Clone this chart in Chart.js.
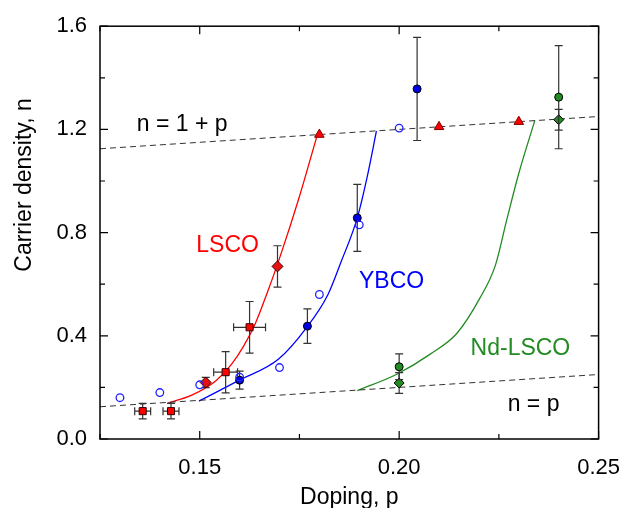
<!DOCTYPE html>
<html><head><meta charset="utf-8">
<style>html,body{margin:0;padding:0;background:#fff}#wrap{width:636px;height:508px}</style>
<script src="https://cdn.jsdelivr.net/npm/chart.js@4/dist/chart.umd.min.js"></script>
</head><body><div id="wrap"><canvas id="c" width="636" height="508"></canvas></div>
<script>
// ---- tick labels ----
const xTicks = [0.15, 0.20, 0.25];
const yTicks = [0.0, 0.4, 0.8, 1.2, 1.6];
const xMinor = [0.125, 0.15, 0.175, 0.20, 0.225, 0.25];
const yMinor = [0.0, 0.2, 0.4, 0.6, 0.8, 1.0, 1.2, 1.4, 1.6];

// ---- LSCO ----
const lscoSqP = [0.1357, 0.1428, 0.1565, 0.1625];
const lscoSqN = [0.108, 0.108, 0.259, 0.433];
const lscoSqPErr = [0.002, 0.002, 0.003, 0.004];
const lscoSqNErr = [0.03, 0.03, 0.08, 0.10];
const lscoDiaP = [0.1515, 0.1695];
const lscoDiaN = [0.219, 0.669];
const lscoDiaNErr = [0.02, 0.08];
const lscoTriP = [0.18, 0.21, 0.23];
const lscoTriN = [1.18, 1.21, 1.23];
const lscoCurveP = [0.1420, 0.1480, 0.1540, 0.1580, 0.1610, 0.1640, 0.1670, 0.1700, 0.1750, 0.1795];
const lscoCurveN = [0.139, 0.170, 0.225, 0.290, 0.360, 0.450, 0.570, 0.700, 0.940, 1.180];

// ---- YBCO ----
const ybcoOpenP = [0.13, 0.14, 0.15, 0.16, 0.17, 0.18, 0.19, 0.20];
const ybcoOpenN = [0.16, 0.18, 0.21, 0.24, 0.277, 0.56, 0.83, 1.205];
const ybcoP = [0.16, 0.177, 0.1895, 0.2045];
const ybcoN = [0.228, 0.4375, 0.857, 1.357];
const ybcoNErr = [0.035, 0.067, 0.13, 0.20];
const ybcoCurveP = [0.1498, 0.1597, 0.1697, 0.1767, 0.1821, 0.1854, 0.1895, 0.1920, 0.1943];
const ybcoCurveN = [0.147, 0.226, 0.309, 0.430, 0.558, 0.685, 0.857, 1.017, 1.193];

// ---- Nd-LSCO ----
const ndCircP = [0.20, 0.24];
const ndCircN = [0.28, 1.325];
const ndCircNErr = [0.05, 0.20];
const ndDiaP = [0.20, 0.24];
const ndDiaN = [0.217, 1.2375];
const ndDiaNErr = [0.04, 0.04];
const ndCurveP = [0.1895, 0.1994, 0.2077, 0.2145, 0.2202, 0.2241, 0.2270, 0.2300, 0.2340];
const ndCurveN = [0.1875, 0.251, 0.328, 0.410, 0.545, 0.672, 0.851, 1.030, 1.234];

// ---- reference lines ----
const upperLineP = [0.125, 0.25];
const upperLineN = [1.125, 1.25];
const lowerLineP = [0.125, 0.25];
const lowerLineN = [0.125, 0.25];

const RED = '#ff0000', BLUE = '#0000ff', GREEN = '#228b22';
const FONT = '"Liberation Sans", Arial, Helvetica, sans-serif';

function pts(xs, ys) { return xs.map((x, i) => ({ x: x, y: ys[i] })); }

function lineDs(xs, ys, color, dashed) {
  return {
    type: 'line', data: pts(xs, ys), borderColor: color, borderWidth: dashed ? 1 : 1.3,
    borderDash: dashed ? [6, 4] : [], pointRadius: 0, showLine: true, fill: false,
    cubicInterpolationMode: dashed ? 'default' : 'monotone', tension: 0, order: 10
  };
}
function markDs(xs, ys, style, r, bg, bc, bw, errX, errY) {
  return {
    type: 'scatter', data: pts(xs, ys), pointStyle: style, pointRadius: r,
    backgroundColor: bg, borderColor: bc, borderWidth: bw, showLine: false,
    errX: errX, errY: errY, order: 1
  };
}

const errorBars = {
  id: 'errorBars',
  beforeDatasetDraw(chart, args) {
    const ds = chart.data.datasets[args.index];
    if (!ds.errX && !ds.errY) return;
    const xs = chart.scales.x, ys = chart.scales.y, ctx = chart.ctx;
    ctx.save();
    ctx.strokeStyle = '#333'; ctx.lineWidth = 1.2;
    const cap = 4;
    ds.data.forEach((p, i) => {
      const cx = xs.getPixelForValue(p.x), cy = ys.getPixelForValue(p.y);
      if (ds.errY) {
        const t = ys.getPixelForValue(p.y + ds.errY[i]), b = ys.getPixelForValue(p.y - ds.errY[i]);
        ctx.beginPath();
        ctx.moveTo(cx, t); ctx.lineTo(cx, b);
        ctx.moveTo(cx - cap, t); ctx.lineTo(cx + cap, t);
        ctx.moveTo(cx - cap, b); ctx.lineTo(cx + cap, b);
        ctx.stroke();
      }
      if (ds.errX) {
        const l = xs.getPixelForValue(p.x - ds.errX[i]), r = xs.getPixelForValue(p.x + ds.errX[i]);
        ctx.beginPath();
        ctx.moveTo(l, cy); ctx.lineTo(r, cy);
        ctx.moveTo(l, cy - cap); ctx.lineTo(l, cy + cap);
        ctx.moveTo(r, cy - cap); ctx.lineTo(r, cy + cap);
        ctx.stroke();
      }
    });
    ctx.restore();
  }
};

const frameAndText = {
  id: 'frameAndText',
  afterDraw(chart) {
    const ctx = chart.ctx, a = chart.chartArea, xs = chart.scales.x, ys = chart.scales.y;
    ctx.save();
    ctx.strokeStyle = '#000'; ctx.lineWidth = 1.5;
    ctx.strokeRect(a.left, a.top, a.right - a.left, a.bottom - a.top);
    ctx.lineWidth = 1.2;
    ctx.beginPath();
    xMinor.forEach(v => {
      const px = xs.getPixelForValue(v);
      const len = xTicks.some(t => Math.abs(t - v) < 1e-9) ? 8 : 5;
      ctx.moveTo(px, a.bottom); ctx.lineTo(px, a.bottom - len);
      ctx.moveTo(px, a.top); ctx.lineTo(px, a.top + len);
    });
    yMinor.forEach(v => {
      const py = ys.getPixelForValue(v);
      const len = yTicks.some(t => Math.abs(t - v) < 1e-9) ? 8 : 5;
      ctx.moveTo(a.left, py); ctx.lineTo(a.left + len, py);
      ctx.moveTo(a.right, py); ctx.lineTo(a.right - len, py);
    });
    ctx.stroke();

    // y axis title
    ctx.fillStyle = '#000';
    ctx.font = '23px ' + FONT;
    ctx.textAlign = 'center'; ctx.textBaseline = 'alphabetic';
    ctx.save();
    ctx.translate(31, 185);
    ctx.rotate(-Math.PI / 2);
    ctx.fillText('Carrier density, n', 0, 0);
    ctx.restore();

    // annotation labels (data coordinates)
    const labels = [
      { t: 'n = 1 + p', x: 0.1456, y: 1.194, c: '#000' },
      { t: 'LSCO', x: 0.1570, y: 0.726, c: RED },
      { t: 'YBCO', x: 0.1981, y: 0.586, c: BLUE },
      { t: 'Nd-LSCO', x: 0.2304, y: 0.325, c: GREEN },
      { t: 'n = p', x: 0.2337, y: 0.108, c: '#000' }
    ];
    labels.forEach(l => {
      ctx.fillStyle = l.c;
      ctx.fillText(l.t, xs.getPixelForValue(l.x), ys.getPixelForValue(l.y));
    });
    ctx.restore();
  }
};

new Chart(document.getElementById('c'), {
  type: 'scatter',
  data: {
    datasets: [
      lineDs(upperLineP, upperLineN, '#333', true),
      lineDs(lowerLineP, lowerLineN, '#333', true),
      lineDs(lscoCurveP, lscoCurveN, RED, false),
      lineDs(ybcoCurveP, ybcoCurveN, BLUE, false),
      lineDs(ndCurveP, ndCurveN, GREEN, false),
      markDs(ybcoOpenP, ybcoOpenN, 'circle', 3.8, 'rgba(255,255,255,0)', '#2020ff', 1.3, null, null),
      markDs(lscoSqP, lscoSqN, 'rect', 5, RED, '#300', 1, lscoSqPErr, lscoSqNErr),
      markDs(lscoDiaP, lscoDiaN, 'rectRot', 5.5, '#e81010', '#300', 1, null, lscoDiaNErr),
      markDs(lscoTriP, lscoTriN, 'triangle', 5.5, RED, '#800000', 1, null, null),
      markDs(ybcoP, ybcoN, 'circle', 4, '#0000e8', '#000', 1, null, ybcoNErr),
      markDs(ndCircP, ndCircN, 'circle', 4, GREEN, '#000', 1, null, ndCircNErr),
      markDs(ndDiaP, ndDiaN, 'rectRot', 5, GREEN, '#000', 1, null, ndDiaNErr)
    ]
  },
  options: {
    responsive: false, animation: false, devicePixelRatio: 1,
    layout: { padding: { left: 0, right: 32, top: 21, bottom: 0 } },
    plugins: { legend: { display: false }, tooltip: { enabled: false } },
    scales: {
      x: {
        type: 'linear', position: 'bottom', min: 0.125, max: 0.25,
        afterBuildTicks: s => { s.ticks = xTicks.map(v => ({ value: v })); },
        afterFit: s => { s.height = 69; },
        grid: { display: false, drawTicks: false }, border: { display: false },
        ticks: { color: '#000', font: { family: FONT, size: 22 }, padding: 16, maxRotation: 0,
          callback: v => Number(v).toFixed(2) },
        title: { display: true, text: 'Doping, p', color: '#000', font: { family: FONT, size: 23 }, padding: { top: 0, bottom: -3 } }
      },
      y: {
        type: 'linear', position: 'left', min: 0, max: 1.6,
        afterBuildTicks: s => { s.ticks = yTicks.map(v => ({ value: v })); },
        afterFit: s => { s.width = 100; },
        grid: { display: false, drawTicks: false }, border: { display: false },
        ticks: { color: '#000', font: { family: FONT, size: 22 }, padding: 13,
          callback: v => Number(v).toFixed(1) }
      }
    }
  },
  plugins: [errorBars, frameAndText]
});
</script>
</body></html>
